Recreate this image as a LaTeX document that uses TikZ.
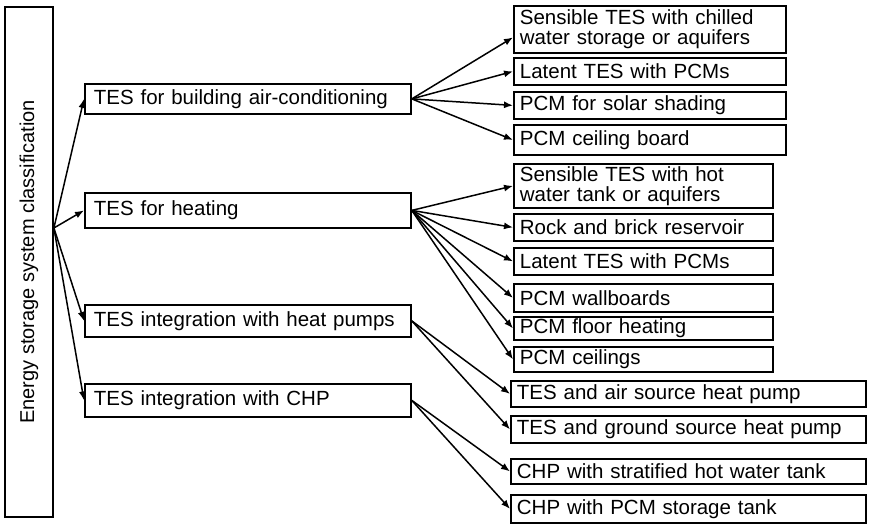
\documentclass[tikz,border=0pt]{standalone}
\usepackage{fontspec}
\setmainfont{Liberation Sans}
\usetikzlibrary{arrows.meta}

\begin{document}
\begin{tikzpicture}[x=1pt, y=-1pt,
    box/.style={draw, line width=1.8pt, anchor=north west, inner ysep=0pt,
        inner xsep=6pt, align=left, font=\fontsize{20.5}{20}\selectfont},
    midbox/.style={box, inner xsep=9pt, text width=308pt},
    arr/.style={line width=1.5pt, -{Latex[length=9pt,width=7pt]}}]

    \useasboundingbox (0,0) rectangle (869,524);

    % root box, turned on its side (its south side faces right)
    \node[draw, line width=1.8pt, rotate=90, minimum width=510pt, minimum height=48pt,
        inner sep=0pt, font=\fontsize{20}{20}\selectfont] (root) at (29,262)
        {Energy storage system classification};
    \coordinate (fork) at ([yshift=34pt]root.south);

    % second level
    \node[midbox, minimum height=30pt] (acond) at (84,83) {TES for building air-conditioning};
    \node[midbox, minimum height=35pt] (heat)  at (84,192) {TES for heating};
    \node[midbox, minimum height=32pt] (hpump) at (84,304) {TES integration with heat pumps};
    \node[midbox, minimum height=33pt] (chp)   at (84,383) {TES integration with CHP};

    % air-conditioning
    \node[box, text width=260pt, minimum height=47pt] (chilled)  at (513,5)   {Sensible TES with chilled\\water storage or aquifers};
    \node[box, text width=260pt, minimum height=27pt] (latentA)  at (513,57)  {Latent TES with PCMs};
    \node[box, text width=260pt, minimum height=27pt] (shading)  at (513,91)  {PCM for solar shading};
    \node[box, text width=260pt, minimum height=30pt] (ceiling)  at (513,124) {PCM ceiling board};

    % heating
    \node[box, text width=247pt, minimum height=44pt] (hotw)     at (513,163) {Sensible TES with hot\\water tank or aquifers};
    \node[box, text width=247pt, minimum height=27pt] (rock)     at (513,213) {Rock and brick reservoir};
    \node[box, text width=247pt, minimum height=27pt] (latentB)  at (513,247) {Latent TES with PCMs};
    \node[box, text width=247pt, minimum height=28pt] (wall)     at (513,283) {PCM wallboards};
    \node[box, text width=247pt, minimum height=23pt] (floor)    at (513,316) {PCM floor heating};
    \node[box, text width=247pt, minimum height=25pt] (ceilings) at (513,346) {PCM ceilings};

    % heat pumps and CHP
    \node[box, text width=343pt, minimum height=26pt] (airhp)    at (510,380) {TES and air source heat pump};
    \node[box, text width=343pt, minimum height=27pt] (groundhp) at (510,415) {TES and ground source heat pump};
    \node[box, text width=343pt, minimum height=25pt] (strat)    at (510,458) {CHP with stratified hot water tank};
    \node[box, text width=343pt, minimum height=28pt] (pcmtank)  at (510,494) {CHP with PCM storage tank};

    \foreach \t in {acond,heat,hpump,chp} \draw[arr] (fork) -- (\t.west);

    \draw[arr] (acond.east) -- ([yshift=-8pt]chilled.west);
    \foreach \t in {latentA,shading,ceiling} \draw[arr] (acond.east) -- (\t.west);
    \foreach \t in {hotw,rock,latentB,wall,floor,ceilings} \draw[arr] (heat.east) -- (\t.west);
    \foreach \t in {airhp,groundhp} \draw[arr] (hpump.east) -- (\t.west);
    \foreach \t in {strat,pcmtank} \draw[arr] (chp.east) -- (\t.west);

\end{tikzpicture}
\end{document}
